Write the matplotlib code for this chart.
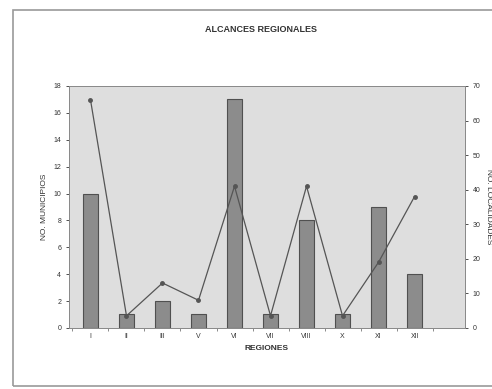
import numpy as np
import matplotlib
matplotlib.use('Agg')
import matplotlib.pyplot as plt
from matplotlib.patches import Rectangle

plt.rcParams['font.family'] = ['Liberation Sans', 'DejaVu Sans']

regiones = ['I', 'II', 'III', 'V', 'VI', 'VII', 'VIII', 'X', 'XI', 'XII']
municipios = [10, 1, 2, 1, 17, 1, 8, 1, 9, 4]
localidades = [66, 3.5, 13, 8, 41, 3.5, 41, 3.5, 19, 38]

fig = plt.figure(figsize=(4.92, 3.89), dpi=100)
fig.patches.append(Rectangle((13/492, 3/389), 1.2, 376/389, transform=fig.transFigure,
                             fill=False, edgecolor='#9a9a9a', lw=1.2))

ax = fig.add_axes([0.140, 0.157, 0.805, 0.622])
ax.set_facecolor('#dedede')
x = np.arange(len(regiones))
ax.bar(x, municipios, width=0.42, color='#8c8c8c', edgecolor='#505050', lw=0.8, zorder=2)
ax.set_xlim(-0.6, 10.4)
ax.set_ylim(0, 18)
ax.set_yticks(range(0, 19, 2))
ax.set_xticks(x)
ax.set_xticklabels(regiones)
ax.set_xticks(np.arange(-0.5, 10.5, 1), minor=True)
ax.tick_params(axis='x', which='major', length=0)
ax.tick_params(axis='x', which='minor', length=2, width=0.6, colors='#777777')
ax.tick_params(labelsize=5, width=0.6, colors='#333333')
ax.tick_params(axis='y', length=2)
for s in ax.spines.values():
    s.set_color('#8a8a8a')
    s.set_linewidth(0.7)
ax.set_ylabel('NO. MUNICIPIOS', fontsize=6, color='#333333')
ax.set_xlabel('REGIONES', fontsize=6, fontweight='bold', color='#333333')

ax2 = ax.twinx()
ax2.plot(x, localidades, color='#555555', lw=0.9, marker='o', ms=2.5, zorder=3)
ax2.set_ylim(0, 70)
ax2.set_yticks(range(0, 71, 10))
ax2.tick_params(labelsize=5, length=2, width=0.6, colors='#333333')
for s in ax2.spines.values():
    s.set_color('#8a8a8a')
    s.set_linewidth(0.7)
ax2.set_ylabel('NO. LOCALIDADES', fontsize=6, color='#333333', rotation=270, labelpad=8)

fig.text(0.53, 0.925, 'ALCANCES REGIONALES', ha='center', va='center',
         fontsize=6.5, fontweight='bold', color='#333333')

fig.savefig('out.png', dpi=100)
